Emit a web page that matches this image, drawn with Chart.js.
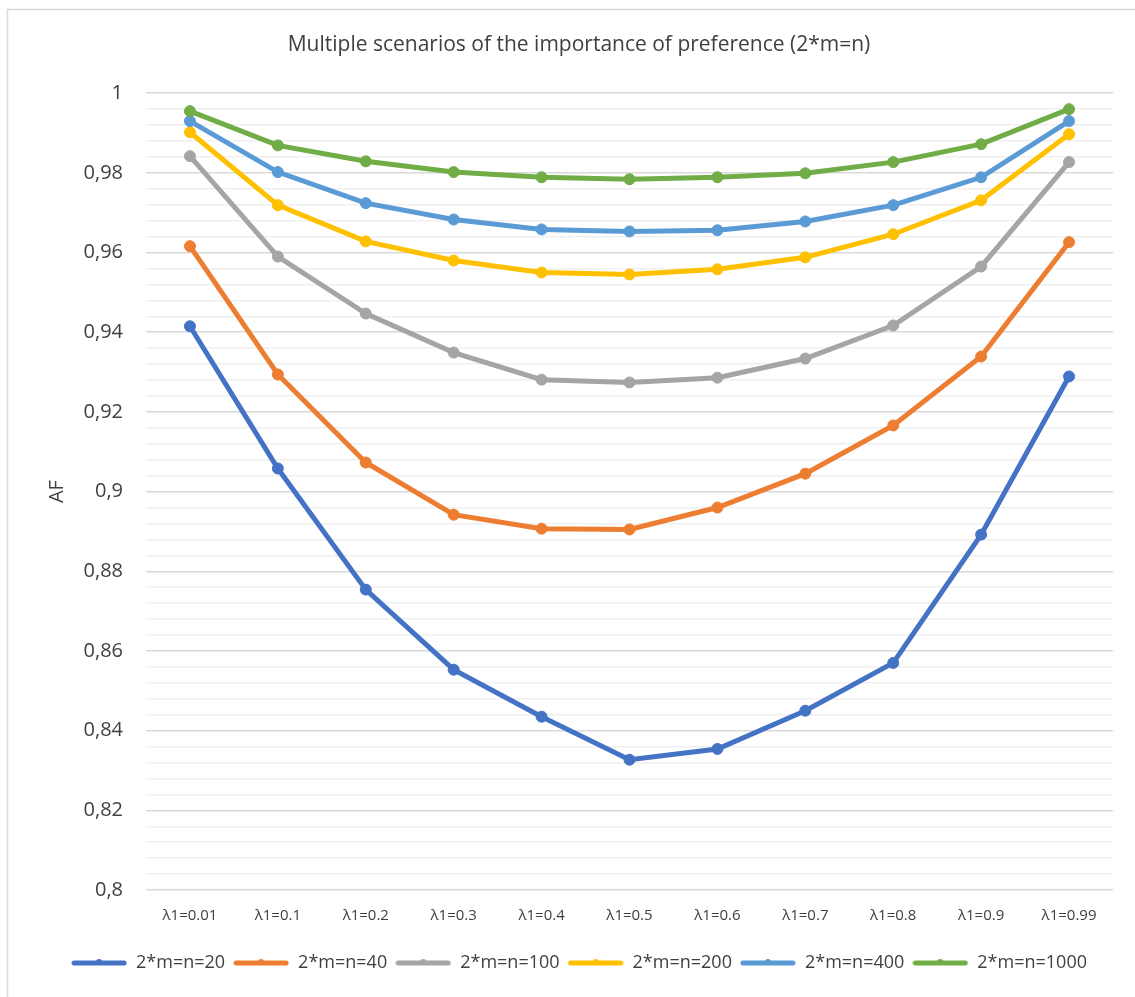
<!DOCTYPE html>
<html>
<head>
<meta charset="utf-8">
<title>Multiple scenarios of the importance of preference</title>
<script src="https://cdn.jsdelivr.net/npm/chart.js@4/dist/chart.umd.min.js"></script>
<style>
    html, body { margin: 0; padding: 0; background: #ffffff; }
    #wrap { position: relative; width: 1135px; height: 997px; }
</style>
</head>
<body>
<div id="wrap"><canvas id="afChart" width="1135" height="997"></canvas></div>
<script>
// Categories (lambda1 values)
const lambdaLabels = ['λ1=0.01', 'λ1=0.1', 'λ1=0.2', 'λ1=0.3', 'λ1=0.4', 'λ1=0.5', 'λ1=0.6', 'λ1=0.7', 'λ1=0.8', 'λ1=0.9', 'λ1=0.99'];

// Series names and colours
const seriesNames = ['2*m=n=20', '2*m=n=40', '2*m=n=100', '2*m=n=200', '2*m=n=400', '2*m=n=1000'];
const seriesColors = ['#4472C4', '#ED7D31', '#A5A5A5', '#FFC000', '#5B9BD5', '#70AD47'];

// AF values
const af20 = [0.9415, 0.9058, 0.8754, 0.8553, 0.8435, 0.8327, 0.8354, 0.8450, 0.8570, 0.8892, 0.9289];
const af40 = [0.9616, 0.9294, 0.9073, 0.8942, 0.8907, 0.8905, 0.8960, 0.9045, 0.9166, 0.9339, 0.9626];
const af100 = [0.9842, 0.9590, 0.9447, 0.9349, 0.9281, 0.9274, 0.9286, 0.9334, 0.9417, 0.9565, 0.9827];
const af200 = [0.9902, 0.9719, 0.9628, 0.9580, 0.9550, 0.9545, 0.9558, 0.9588, 0.9646, 0.9731, 0.9897];
const af400 = [0.9930, 0.9802, 0.9724, 0.9683, 0.9658, 0.9653, 0.9656, 0.9678, 0.9719, 0.9789, 0.9930];
const af1000 = [0.9955, 0.9869, 0.9829, 0.9802, 0.9789, 0.9784, 0.9789, 0.9799, 0.9827, 0.9872, 0.9960];

const seriesData = [af20, af40, af100, af200, af400, af1000];

const fontFamily = '"Open Sans", "Liberation Sans", sans-serif';
const textColor = '#404040';

// major gridline every 0.02, minor every 0.004
function isMajor(v) {
    return Math.abs(v * 50 - Math.round(v * 50)) < 1e-6;
}

// Legend swatch: thick line with a small dot in the middle
function makeSwatch(color) {
    const c = document.createElement('canvas');
    c.width = 56;
    c.height = 12;
    const g = c.getContext('2d');
    g.strokeStyle = color;
    g.lineWidth = 5;
    g.lineCap = 'round';
    g.beginPath();
    g.moveTo(3, 6);
    g.lineTo(53, 6);
    g.stroke();
    g.fillStyle = color;
    g.beginPath();
    g.arc(28, 5, 3, 0, Math.PI * 2);
    g.fill();
    return c;
}

// Light frame on the left and top edges
const framePlugin = {
    id: 'frame',
    beforeDraw(chart) {
        const ctx = chart.ctx;
        ctx.save();
        ctx.fillStyle = '#ffffff';
        ctx.fillRect(0, 0, chart.width, chart.height);
        ctx.strokeStyle = '#d9d9d9';
        ctx.lineWidth = 1.5;
        ctx.beginPath();
        ctx.moveTo(7.5, chart.height);
        ctx.lineTo(7.5, 9.5);
        ctx.lineTo(chart.width, 9.5);
        ctx.stroke();
        ctx.restore();
    }
};

const datasets = seriesNames.map((name, i) => ({
    label: name,
    data: seriesData[i],
    borderColor: seriesColors[i],
    backgroundColor: seriesColors[i],
    pointBackgroundColor: seriesColors[i],
    pointBorderColor: seriesColors[i],
    borderWidth: 5,
    pointRadius: 5.5,
    pointBorderWidth: 1,
    tension: 0,
    fill: false,
    order: seriesNames.length - i // later series on top, like Excel
}));

const swatches = seriesColors.map(makeSwatch);

new Chart(document.getElementById('afChart').getContext('2d'), {
    type: 'line',
    data: {
        labels: lambdaLabels,
        datasets: datasets
    },
    options: {
        responsive: false,
        animation: false,
        layout: {
            padding: { left: 45, right: 22, top: 0, bottom: 15 }
        },
        plugins: {
            title: {
                display: true,
                text: 'Multiple scenarios of the importance of preference (2*m=n)',
                color: textColor,
                font: { family: fontFamily, size: 21, weight: 'normal' },
                padding: { top: 32, bottom: 36 }
            },
            legend: {
                display: true,
                position: 'bottom',
                labels: {
                    color: textColor,
                    font: { family: fontFamily, size: 18 },
                    usePointStyle: true,
                    pointStyleWidth: 56,
                    padding: 8,
                    generateLabels(chart) {
                        return chart.data.datasets.map((ds, i) => ({
                            text: ds.label,
                            fontColor: textColor,
                            pointStyle: swatches[i],
                            fillStyle: ds.borderColor,
                            strokeStyle: ds.borderColor,
                            lineWidth: 0,
                            hidden: false,
                            datasetIndex: i
                        }));
                    }
                }
            },
            tooltip: { enabled: false }
        },
        scales: {
            x: {
                offset: true,
                grid: { display: false, drawTicks: false },
                border: { display: false },
                ticks: {
                    color: textColor,
                    font: { family: fontFamily, size: 15 },
                    padding: 17,
                    maxRotation: 0,
                    autoSkip: false
                },
                afterFit(scale) {
                    scale.height = 56;
                }
            },
            y: {
                min: 0.8,
                max: 1,
                grid: {
                    drawTicks: false,
                    color: ctx => (ctx.tick && isMajor(ctx.tick.value)) ? '#d9d9d9' : '#f0f0f0',
                    lineWidth: 1.5
                },
                border: { display: false },
                title: {
                    display: true,
                    text: 'AF',
                    color: textColor,
                    font: { family: fontFamily, size: 20 },
                    padding: { top: 0, bottom: 0 }
                },
                ticks: {
                    stepSize: 0.004,
                    autoSkip: false,
                    color: textColor,
                    font: { family: fontFamily, size: 20 },
                    padding: 23,
                    callback: function (value) {
                        if (!isMajor(value)) return '';
                        return String(+value.toFixed(2)).replace('.', ',');
                    }
                },
                afterFit(scale) {
                    scale.width = 101;
                }
            }
        }
    },
    plugins: [framePlugin]
});
</script>
</body>
</html>
